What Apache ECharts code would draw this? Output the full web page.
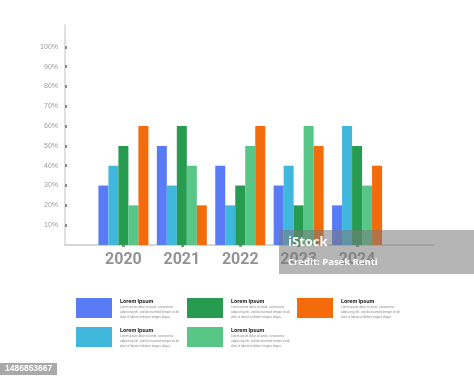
<!DOCTYPE html>
<html>
<head>
<meta charset="utf-8">
<script src="https://cdn.jsdelivr.net/npm/echarts@6/dist/echarts.min.js"></script>
<style>html,body{margin:0;padding:0;background:#fff}#c{width:474px;height:379px}</style>
</head>
<body>
<div id="c"></div>
<script>
const years = ['2020', '2021', '2022', '2023', '2024'];
const yTicks = [10, 20, 30, 40, 50, 60, 70, 80, 90, 100];
const seriesNames = ['A', 'B', 'C', 'D', 'E'];
const blueVals = [30, 50, 40, 30, 20];
const cyanVals = [40, 30, 20, 40, 60];
const darkGreenVals = [50, 60, 30, 20, 50];
const lightGreenVals = [20, 40, 50, 60, 30];
const orangeVals = [60, 20, 60, 50, 40];
const colors = ['#5a7bf6', '#40b8de', '#279b50', '#58c687', '#f36b0b'];
const legendTitle = 'Lorem Ipsum';
const legendLines = ['Lorem ipsum dolor sit amet, consectetur', 'adipiscing elit, sed do eiusmod tempor incidi', 'dunt ut labore et dolore magna aliqua.'];

const allVals = [blueVals, cyanVals, darkGreenVals, lightGreenVals, orangeVals];
const chart = echarts.init(document.getElementById('c'), null, {renderer: 'canvas'});

const series = allVals.map((vals, s) => ({
  name: seriesNames[s],
  type: 'bar',
  barWidth: 10,
  barGap: '0%',
  itemStyle: {color: colors[s]},
  data: vals.map((v, i) => [i + 1, v])
}));

// legend placement: column-major (blue, cyan | dark green, light green | orange)
const legendPos = [[76, 298], [76, 327], [187, 298], [187, 327], [297, 298]];
const legends = seriesNames.map((n, s) => ({
  data: [n],
  left: legendPos[s][0],
  top: legendPos[s][1],
  selectedMode: false,
  icon: 'rect',
  itemWidth: 36,
  itemHeight: 20,
  padding: 0,
  formatter: () => '{t|' + legendTitle + '}\n' + legendLines.map(l => '{d|' + l + '}').join('\n'),
  textStyle: {
    padding: [0, 0, 0, 3],
    rich: {
      t: {fontFamily: 'Inter', fontWeight: 700, fontSize: 5.3, color: '#222', lineHeight: 8},
      d: {fontFamily: 'Liberation Sans', fontSize: 3, color: '#888', lineHeight: 4.7}
    }
  }
}));

chart.setOption({
  animation: false,
  backgroundColor: '#fff',
  grid: {left: 65, right: 41, top: 25, bottom: 134},
  xAxis: {
    type: 'value',
    min: 0,
    max: 6.3,
    interval: 1,
    splitLine: {show: false},
    axisLine: {show: true, lineStyle: {color: '#d6d6d6', width: 2}},
    axisTick: {show: true, customValues: [1, 2, 3, 4, 5], length: 2, lineStyle: {color: '#8a8a8a', width: 3}},
    axisLabel: {
      customValues: [1, 2, 3, 4, 5],
      formatter: v => years[Math.round(v) - 1] || '',
      fontFamily: 'Roboto', fontWeight: 'bold', fontSize: 16, color: '#939393', margin: 7
    }
  },
  yAxis: {
    type: 'value',
    min: 0,
    max: 111,
    interval: 10,
    splitLine: {show: false},
    axisLine: {show: true, lineStyle: {color: '#d6d6d6', width: 1.5}},
    axisTick: {show: true, customValues: yTicks, length: 2, inside: true, lineStyle: {color: '#8a8a8a', width: 3}},
    axisLabel: {
      customValues: yTicks,
      formatter: v => v + '%',
      fontFamily: 'Liberation Sans', fontSize: 7, color: '#999', margin: 7
    }
  },
  legend: legends,
  series: series,
  graphic: [
    {type: 'rect', left: 279, top: 230, shape: {width: 195, height: 44}, style: {fill: 'rgba(120,120,120,0.55)'}, z: 100},
    {type: 'text', left: 288, top: 236, style: {text: 'iStock', fill: '#fff', font: 'bold 13px "Open Sans"'}, z: 101},
    {type: 'text', left: 288, top: 257, style: {text: 'Credit: Pasek Renti', fill: '#fff', font: 'bold 9.5px "Open Sans"'}, z: 101},
    {type: 'rect', left: 0, top: 363, shape: {width: 57, height: 12}, style: {fill: '#a9a9a9'}, z: 100},
    {type: 'text', left: 5, top: 364, style: {text: '1486853667', fill: '#fff', font: 'bold 8.5px "Liberation Sans"'}, z: 101}
  ]
});
</script>
</body>
</html>
